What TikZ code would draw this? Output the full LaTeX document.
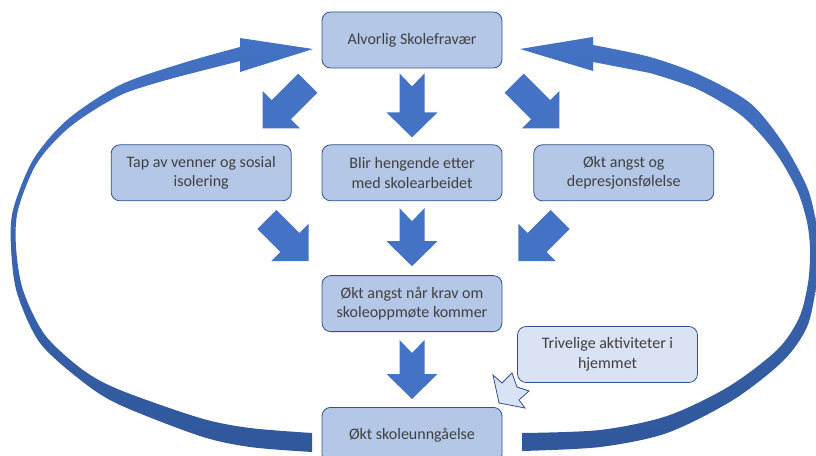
\documentclass[tikz,border=0pt]{standalone}
\usepackage{fontspec}
\setmainfont{Carlito}
\usetikzlibrary{positioning,calc}
\definecolor{boxfill}{HTML}{B4C7E7}
\definecolor{boxline}{HTML}{2F528F}
\definecolor{lightfill}{HTML}{DAE3F3}
\definecolor{arrowblue}{HTML}{4472C4}
\definecolor{arcdark}{HTML}{30579A}
\definecolor{textgray}{HTML}{404040}
\tikzset{
  box/.style={draw=boxline, fill=boxfill, line width=0.6pt, rounded corners=6.5pt,
    minimum width=135pt, minimum height=42pt, align=center, text=textgray,
    font=\fontsize{12pt}{14.6pt}\selectfont},
  lightbox/.style={box, fill=lightfill},
  % notched block arrow, tip at the origin, pointing down
  pics/downarrow/.style={code={
    \fill[arrowblue] (0,0) -- (-25.5,-25) -- (-12.5,-25) -- (-12.5,-#1)
      -- (0,{-#1+13}) -- (12.5,-#1) -- (12.5,-25) -- (25.5,-25) -- cycle;
  }},
  % plain block arrow, used turned by 45 degrees
  pics/diagarrow/.style={code={
    \fill[arrowblue] (0,0) -- (-26.5,-26.5) -- (-13.5,-26.5) -- (-13.5,-#1)
      -- (13.5,-#1) -- (13.5,-26.5) -- (26.5,-26.5) -- cycle;
  }},
}
\begin{document}
\begin{tikzpicture}[x=0.75pt,y=-0.75pt]
\useasboundingbox (0,0) rectangle (816,456);
\clip (0,0) rectangle (816,456);

% boxes
\node[box] (fravaer) at (412,40) {Alvorlig Skolefravær};
\node[box, below=57pt of fravaer] (blir) {Blir hengende etter\\med skolearbeidet};
\node[box, left=22.5pt of blir] (tap) {Tap av venner og sosial\\isolering};
\node[box, right=23.25pt of blir] (angst) {Økt angst og\\depresjonsfølelse};
\node[box, below=55.5pt of blir] (okangst) {Økt angst når krav om\\skoleoppmøte kommer};
\node[box, below=56.25pt of okangst] (unngaa) {Økt skoleunngåelse};
\node[lightbox] (trivelig) at (607.5,354.5) {Trivelige aktiviteter i\\hjemmet};

% block arrows
\pic[rotate=-45] at ($(tap.north east)+(-29,-16)$) {diagarrow=64};
\pic at ($(blir.north)+(0,-7)$) {downarrow=64};
\pic[rotate=45] at ($(angst.north west)+(26,-16)$) {diagarrow=64};
\pic[rotate=45] at ($(okangst.north west)+(-13,-14)$) {diagarrow=59};
\pic at ($(okangst.north)+(0,-9)$) {downarrow=58};
\pic[rotate=-45] at ($(okangst.north east)+(16,-14)$) {diagarrow=59};
\pic at ($(unngaa.north)+(0,-8)$) {downarrow=59};

% small arrow from trivelig
\filldraw[fill=lightfill, draw=boxline, line width=0.6pt]
  (499,403) -- (493,375) -- (502,383) -- (512,373) -- (517,387)
  -- (529,391) -- (519,400) -- (525,408) -- cycle;

% left loop
\shade[top color=arrowblue, bottom color=arcdark]
  plot[smooth] coordinates {(312,452) (250,447) (200,436) (120,405) (83,382)
    (40,343) (17,293) (11,247) (13,210) (33,160) (67,120) (120,85) (183,63) (240,47)}
  -- (240,38) -- (313,49) -- (240,72) -- (240,61)
  -- plot[smooth] coordinates {(185,75) (123,94) (71,126) (37,163) (18,210)
    (16,247) (23,290) (45,335) (83,370) (120,390) (200,418) (250,428) (312,433)}
  -- cycle;

% right loop
\shade[top color=arrowblue, bottom color=arcdark]
  plot[smooth] coordinates {(522,451) (600,447) (667,433) (733,400) (783,361)
    (807,327) (816,287) (819,250) (816,222) (807,187) (783,143) (750,103)
    (700,75) (650,57) (593,45)}
  -- (593,37) -- (520,49) -- (593,71) -- (593,62)
  -- plot[smooth] coordinates {(650,73) (697,89) (742,116) (775,152) (797,190)
    (807,222) (810,250) (808,283) (799,318) (777,350) (728,387) (667,416)
    (600,430) (522,433)}
  -- cycle;
\end{tikzpicture}
\end{document}
